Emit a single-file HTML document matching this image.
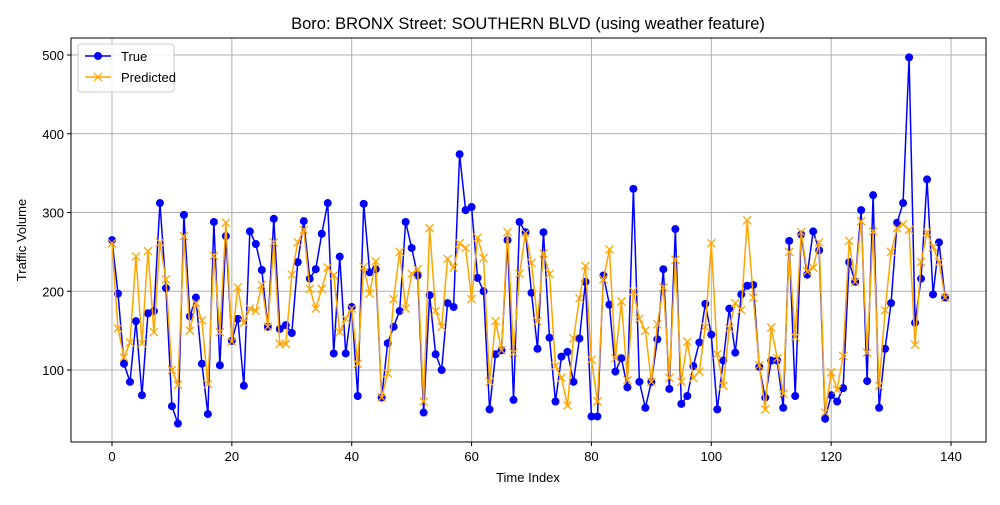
<!DOCTYPE html>
<html><head><meta charset="utf-8"><style>
body{margin:0;background:#fff;width:1000px;height:500px;overflow:hidden}
svg text{font-family:"Liberation Sans","DejaVu Sans",sans-serif;fill:#000}
</style></head><body>
<svg id="chart" width="1000" height="500">
<text x="528" y="29" font-size="16.5" text-anchor="middle">Boro: BRONX Street: SOUTHERN BLVD (using weather feature)</text>
<g id="grid"></g><g id="xticks"></g><g id="yticks"></g><g id="series"></g>
<rect x="71" y="38" width="915" height="404" fill="none" stroke="#000" stroke-width="1"/>
<text x="528" y="482" font-size="13" text-anchor="middle">Time Index</text>
<text transform="translate(26,240) rotate(-90)" font-size="13" text-anchor="middle">Traffic Volume</text>
<g>
<rect x="78" y="44" width="96" height="48" rx="3" fill="#fff" fill-opacity="0.8" stroke="#ccc"/>
<g><line x1="85" y1="56" x2="111" y2="56" stroke="blue" stroke-width="1.5"/><circle cx="98" cy="56" r="4" fill="blue"/><text x="121" y="61" font-size="13">True</text></g>
<g><line x1="85" y1="77" x2="111" y2="77" stroke="orange" stroke-width="1.5"/><path d="M94 73l8 8M102 73l-8 8" stroke="orange" stroke-width="1.3"/><text x="121" y="82" font-size="13">Predicted</text></g>
</g>
</svg>
<script>
const trueVals=[265,197,108,85,162,68,172,175,312,204,54,32,297,168,192,108,44,288,106,270,137,165,80,276,260,227,155,292,152,157,147,237,289,216,228,273,312,121,244,121,180,67,311,224,228,65,134,155,175,288,255,220,46,195,120,100,185,180,374,303,307,217,200,50,120,125,265,62,288,275,198,127,275,141,60,117,123,85,140,212,41,41,220,183,98,115,78,330,85,52,85,139,228,76,279,57,67,105,135,184,145,50,112,178,122,196,207,208,104,65,112,112,52,264,67,272,221,276,252,38,68,60,77,237,212,303,86,322,52,127,185,287,312,497,160,216,342,196,262,192];
const predVals=[261,153,116,135,244,134,251,148,262,215,100,81,270,150,185,163,82,245,148,287,136,205,160,178,175,208,155,262,133,133,221,262,278,203,178,203,230,220,148,165,178,108,231,197,238,65,96,190,250,178,222,228,60,280,175,155,241,230,261,255,190,268,242,85,162,125,275,122,222,274,236,162,248,222,105,90,55,140,191,232,113,60,215,253,115,187,87,200,165,150,85,158,205,90,240,85,136,90,98,155,261,120,80,153,185,176,290,192,106,50,154,115,70,250,142,275,225,230,262,46,97,75,118,264,212,289,122,276,80,176,250,280,285,278,132,237,275,256,237,192];
const xTicks=[0,20,40,60,80,100,120,140];
const yTicks=[100,200,300,400,500];
const X=v=>112+v*5.993, Y=v=>370-(v-100)*0.7875;
const NS="http://www.w3.org/2000/svg";
function mk(parent,tag,attrs){const e=document.createElementNS(NS,tag);for(const k in attrs)e.setAttribute(k,attrs[k]);document.getElementById(parent).appendChild(e);return e;}
xTicks.forEach(t=>{
 const g=mk('grid','line',{x1:X(t),x2:X(t),y1:38,y2:442,stroke:'#b0b0b0','stroke-width':1});
 
 
 mk('xticks','line',{x1:X(t),x2:X(t),y1:442,y2:446,stroke:'#000'});
 const tx=mk('xticks','text',{x:X(t),y:461,'font-size':13,'text-anchor':'middle'});tx.textContent=t;
 
 
});
yTicks.forEach(t=>{
 const g=mk('grid','line',{x1:71,x2:986,y1:Y(t),y2:Y(t),stroke:'#b0b0b0','stroke-width':1});
 
 
 mk('yticks','line',{x1:67,x2:71,y1:Y(t),y2:Y(t),stroke:'#000'});
 const tx=mk('yticks','text',{x:64,y:Y(t)+5,'font-size':13,'text-anchor':'end'});tx.textContent=t;
 
 
});
const tl=mk('series','polyline',{points:trueVals.map((v,i)=>X(i)+','+Y(v)).join(' '),fill:'none',stroke:'blue','stroke-width':1.5});


trueVals.forEach((v,i)=>{const c=mk('series','circle',{cx:X(i),cy:Y(v),r:4,fill:'blue'});
 
 });
const pl=mk('series','polyline',{points:predVals.map((v,i)=>X(i)+','+Y(v)).join(' '),fill:'none',stroke:'orange','stroke-width':1.5});


predVals.forEach((v,i)=>{const x=X(i),y=Y(v);const p=mk('series','path',{d:`M${x-4} ${y-4}L${x+4} ${y+4}M${x+4} ${y-4}L${x-4} ${y+4}`,stroke:'orange','stroke-width':1.3});
 
 });
</script>
</body></html>
